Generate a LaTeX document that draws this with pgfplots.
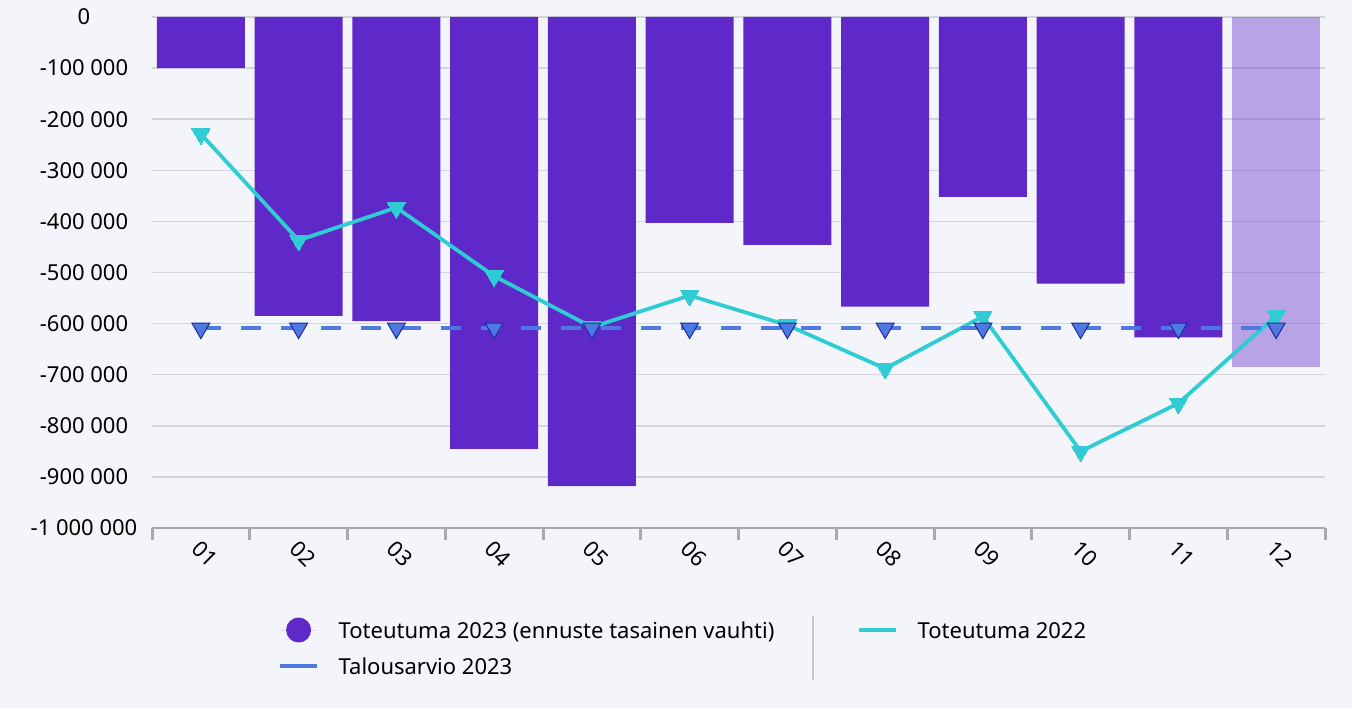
\documentclass[border=0pt]{standalone}
\usepackage{pgfplots}
\pgfplotsset{compat=1.18}
\usepackage{fontspec}
\setmainfont{Noto Sans}
\definecolor{bgc}{HTML}{F4F5FA}
\definecolor{barc}{HTML}{5F29CA}
\definecolor{cyanc}{HTML}{30CCD3}
\definecolor{bluec}{HTML}{4F79E2}
\definecolor{navyc}{HTML}{1E2A9B}
\definecolor{gridc}{HTML}{D4D5DB}
\definecolor{axisc}{HTML}{A8A9AE}
\definecolor{sepc}{HTML}{C8C8CC}
\begin{document}
\begin{tikzpicture}[font=\fontsize{11}{13}\selectfont]
\fill[bgc] (0,0) rectangle (676pt,354pt);
\useasboundingbox (0,0) rectangle (676pt,354pt);
\begin{axis}[
  at={(76pt,90pt)}, anchor=south west,
  scale only axis, width=586.5pt, height=255.5pt,
  xmin=-0.5, xmax=11.5, ymin=-1000000, ymax=0,
  axis x line=bottom, axis y line=left,
  x axis line style={-, draw=axisc, line width=0.75pt},
  y axis line style={draw=none},
  tick align=outside,
  major tick length=0pt,
  minor tick length=6pt,
  xtick={0,1,2,3,4,5,6,7,8,9,10,11},
  xticklabels={01,02,03,04,05,06,07,08,09,10,11,12},
  minor xtick={-0.5,0.5,1.5,2.5,3.5,4.5,5.5,6.5,7.5,8.5,9.5,10.5,11.5},
  minor tick style={draw=axisc, line width=1.5pt},
  xticklabel style={xshift=2pt, yshift=-13pt, rotate=-45, anchor=center},
  ytick={-1000000,-900000,-800000,-700000,-600000,-500000,-400000,-300000,-200000,-100000,0},
  yticklabels={-1 000 000,-900 000,-800 000,-700 000,-600 000,-500 000,-400 000,-300 000,-200 000,-100 000,0},
  ytick style={draw=none},
  yticklabel style={anchor=center, xshift=-34pt},
  ymajorgrids, grid style={draw=gridc, line width=0.75pt},
  scaled y ticks=false,
  legend columns=2,
  legend cell align=left,
  legend style={at={(0.10742,-0.17515)}, anchor=north west, draw=none, fill=none,
    inner sep=0pt, outer sep=0pt,
    nodes={inner sep=0pt, text height=8pt, text depth=0pt},
    row sep=7.75pt,
    /tikz/every odd column/.append style={column sep=9.85pt},
    /tikz/every even column/.append style={column sep=38.15pt}},
]
\addplot[ybar, bar width=44pt, bar shift=0pt, fill=barc, draw=none,
  legend image code/.code={\fill[barc] (9.3pt,0pt) circle (6.25pt); \path (0pt,0pt) -- (18.5pt,0pt);}]
  coordinates {(0,-100000) (1,-585000) (2,-595000) (3,-845000) (4,-918000) (5,-403000)
               (6,-446000) (7,-567000) (8,-352000) (9,-522000) (10,-627000)};
\addlegendentry{\makebox[221pt][l]{Toteutuma 2023 (ennuste tasainen vauhti)}}
\addplot[ybar, bar width=44pt, bar shift=0pt, fill=barc, fill opacity=0.4, draw=none, forget plot]
  coordinates {(11,-684000)};
\addplot[cyanc, line width=1.9pt, mark=triangle*, mark size=5.2pt,
  mark options={rotate=180, fill=cyanc, draw=cyanc, line width=0pt, solid},
  legend image code/.code={\draw[cyanc, solid, line width=2pt] (0pt,0pt) -- (18.5pt,0pt);}]
  coordinates {(0,-229000) (1,-437000) (2,-373000) (3,-507000) (4,-607000) (5,-545000)
               (6,-603000) (7,-688000) (8,-586000) (9,-850000) (10,-756000) (11,-585000)};
\addlegendentry{Toteutuma 2022}
\addplot[bluec, line width=2pt, dash pattern=on 10pt off 10pt, mark=triangle*, mark size=5.2pt,
  mark options={rotate=180, fill=bluec, draw=navyc, line width=0.5pt, solid},
  legend image code/.code={\draw[bluec, solid, line width=2pt] (0pt,0pt) -- (18.5pt,0pt);}]
  coordinates {(0,-609000) (1,-609000) (2,-609000) (3,-609000) (4,-609000) (5,-609000)
               (6,-609000) (7,-609000) (8,-609000) (9,-609000) (10,-609000) (11,-609000)};
\addlegendentry{Talousarvio 2023}
\end{axis}
\draw[sepc, line width=1pt] (406.5pt,46pt) -- (406.5pt,14pt);
\end{tikzpicture}
\end{document}
